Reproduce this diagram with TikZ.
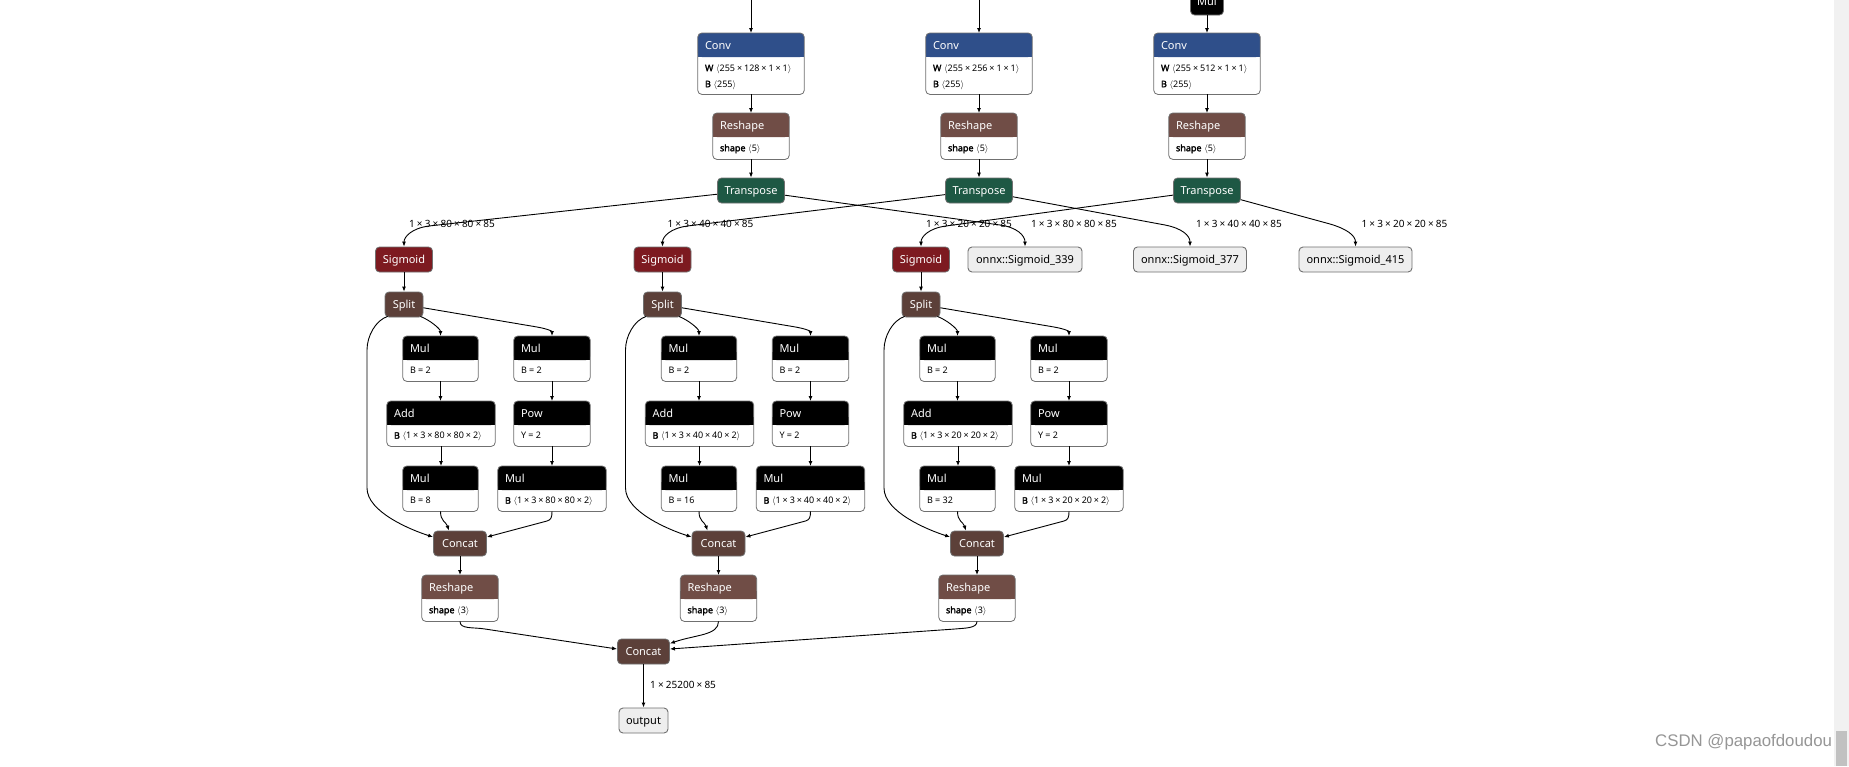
\documentclass[tikz,border=0pt]{standalone}
\usepackage{fontspec}
\setmainfont{Noto Sans}
\newfontfamily\wmfont{Liberation Sans}
\newfontfamily\bnt{Noto Sans}[FakeBold=2.2]
\usetikzlibrary{arrows.meta,calc}

\definecolor{convc}{RGB}{47,79,138}
\definecolor{shapec}{RGB}{112,77,70}
\definecolor{tensc}{RGB}{92,64,57}
\definecolor{transc}{RGB}{30,88,68}
\definecolor{sigc}{RGB}{125,26,32}
\definecolor{framec}{RGB}{112,112,112}
\definecolor{plainc}{RGB}{238,238,238}
\definecolor{wmc}{RGB}{150,150,150}
\definecolor{trackc}{RGB}{241,241,241}
\definecolor{thumbc}{RGB}{193,193,193}

\newcommand\tms{\hspace{0.214em}×\hspace{0.214em}}
\newcommand\lbr{\hspace{0.3em}$\langle$}
\newcommand\rbr{$\rangle$}
\newcommand\nm[1]{{\bnt #1}}

\tikzset{
  conn/.style={draw=black, line width=0.9pt, -{Latex[length=5pt,width=4pt]}},
  opfr/.style={draw=none, inner sep=0pt, rectangle},
  ttl/.style={text=white, font=\fontsize{11}{13}\selectfont, inner sep=0pt},
  bdy/.style={text=black, font=\fontsize{9}{11}\selectfont, inner sep=0pt},
  lbl/.style={text=black, font=\fontsize{10}{12}\selectfont, inner sep=0pt},
  tnode/.style={draw=framec, line width=0.8pt, rounded corners=4pt, text=white,
    font=\fontsize{11}{13}\selectfont, minimum height=25pt, inner sep=0pt,
    text height=7.8pt, text depth=0pt},
  pnode/.style={draw=framec, fill=plainc, line width=0.9pt, rounded corners=4pt, text=black,
    font=\fontsize{11}{13}\selectfont, minimum height=25pt, inner sep=0pt,
    text height=7.8pt, text depth=0pt},
  wm/.style={font=\wmfont\fontsize{16.8}{20}\selectfont, text=wmc, inner sep=0pt}
}

% #1 name, #2 cx, #3 top, #4 width, #5 body height, #6 header colour
\newcommand\opframe[6]{%
  \node[opfr, minimum width=#4, minimum height={24+#5}, anchor=north] (#1) at (#2,#3) {};
  \fill[white, rounded corners=4pt] (#1.north west) rectangle (#1.south east);
  \fill[#6, rounded corners=4pt] (#1.north west) rectangle ($(#1.north east)+(0,24)$);
  \fill[#6] ($(#1.north west)+(0,16)$) rectangle ($(#1.north east)+(0,24)$);
  \draw[framec, line width=0.8pt, rounded corners=4pt] (#1.north west) rectangle (#1.south east);
}
\newcommand\titl[2]{\node[ttl, anchor=base west] at ($(#1.north west)+(7,16)$) {#2};}
\newcommand\brow[3]{\node[bdy, anchor=base west] at ($(#1.north west)+(7,#2)$) {#3};}

\begin{document}
\begin{tikzpicture}[x=1pt,y=-1pt]
\useasboundingbox (0,0) rectangle (1849,766);
\clip (0,0) rectangle (1849,766);
\fill[white] (0,0) rectangle (1849,766);

% scrollbar and watermark
\fill[trackc] (1834,0) rectangle (1849,766);
\fill[thumbc] (1836,731) rectangle (1847,766);
\node[wm, anchor=base west] (wmark) at (1655,746.5) {CSDN @papaofdoudou};

% top inputs
\coordinate (in0) at (751,-2);
\coordinate (in1) at (979,-2);
\node[tnode, fill=black, minimum width=33, minimum height=27] (mtop) at (1207,1.5) {Mul};

\foreach \ci/\w in {0/128,1/256,2/512}{
  \pgfmathsetmacro\tx{751+228*\ci}
  \opframe{conv\ci}{\tx}{33}{106}{37}{convc}
  \titl{conv\ci}{Conv}
  \brow{conv\ci}{38.2}{\nm{W}\lbr 255\tms\w\tms1\tms1\rbr}
  \brow{conv\ci}{54.2}{\nm{B}\lbr 255\rbr}
  \opframe{rsa\ci}{\tx}{113}{76}{22}{shapec}
  \titl{rsa\ci}{Reshape}
  \brow{rsa\ci}{38.2}{\nm{shape}\lbr 5\rbr}
  \node[tnode, fill=transc, minimum width=67] (t\ci) at (\tx,190.5) {Transpose};
  \draw[conn] (conv\ci) -- (rsa\ci);
  \draw[conn] (rsa\ci) -- (t\ci);
}
\draw[conn] (in0) -- (conv0);
\draw[conn] (in1) -- (conv1);
\draw[conn] (mtop) -- (conv2);

% onnx outputs
\node[pnode, minimum width=114] (o0) at (1025,259.5) {onnx::Sigmoid\_339};
\node[pnode, minimum width=113] (o1) at (1190,259.5) {onnx::Sigmoid\_377};
\node[pnode, minimum width=113] (o2) at (1355.5,259.5) {onnx::Sigmoid\_415};
\node[lbl] (lo0) at (1074,224) {1\tms3\tms80\tms80\tms85};
\node[lbl] (lo1) at (1239,224) {1\tms3\tms40\tms40\tms85};
\node[lbl] (lo2) at (1404.5,224) {1\tms3\tms20\tms20\tms85};
\draw[conn] (t0) -- (1000,225) .. controls +(17,2.3) and +(0,-11) .. (o0.north);
\draw[conn] (t1) -- (1165,225) .. controls +(17,3.3) and +(0,-11) .. (o1.north);
\draw[conn] (t2) -- (1330,224) .. controls +(17,5) and +(0,-11) .. (o2.north);

% lower columns
\foreach \ci/\dm/\bv in {0/80/8,1/40/16,2/20/32}{
  \pgfmathsetmacro\cx{404+258.5*\ci}
  \node[lbl] (ls\ci) at (\cx+48,224) {1\tms3\tms\dm\tms\dm\tms85};
  \node[tnode, fill=sigc, minimum width=57] (sig\ci) at (\cx,259.5) {Sigmoid};
  \node[tnode, fill=tensc, minimum width=38] (sp\ci) at (\cx,304.5) {Split};
  \opframe{ma\ci}{\cx+36.5}{336}{75}{21}{black}
  \titl{ma\ci}{Mul} \brow{ma\ci}{37.7}{B = 2}
  \opframe{mb\ci}{\cx+148}{336}{76}{21}{black}
  \titl{mb\ci}{Mul} \brow{mb\ci}{37.7}{B = 2}
  \opframe{ad\ci}{\cx+37}{401}{108}{21}{black}
  \titl{ad\ci}{Add} \brow{ad\ci}{37.7}{\nm{B}\lbr 1\tms3\tms\dm\tms\dm\tms2\rbr}
  \opframe{pw\ci}{\cx+148}{401}{76}{21}{black}
  \titl{pw\ci}{Pow} \brow{pw\ci}{37.7}{Y = 2}
  \opframe{mc\ci}{\cx+36.5}{466}{75}{21}{black}
  \titl{mc\ci}{Mul} \brow{mc\ci}{37.7}{B = \bv}
  \opframe{md\ci}{\cx+148}{466}{108}{21}{black}
  \titl{md\ci}{Mul} \brow{md\ci}{37.7}{\nm{B}\lbr 1\tms3\tms\dm\tms\dm\tms2\rbr}
  \node[tnode, fill=tensc, minimum width=53] (cc\ci) at (\cx+56,543.5) {Concat};
  \opframe{rb\ci}{\cx+56}{575}{76}{22}{shapec}
  \titl{rb\ci}{Reshape} \brow{rb\ci}{38.2}{\nm{shape}\lbr 3\rbr}
  % edges
  \draw[conn] (t\ci) -- (\cx+25,226) .. controls +(-17,2.2) and +(0,-10) .. (sig\ci.north);
  \draw[conn] (sig\ci) -- (sp\ci);
  \draw[conn] ($(sp\ci.south east)+(-3,-1)$) .. controls +(10,4) and +(0,-7) .. (ma\ci.north);
  \draw[conn] (sp\ci) -- (\cx+133,327) .. controls +(10,1.8) and +(0,-5) .. (mb\ci.north);
  \draw[conn] ($(sp\ci.south west)+(3,-1)$) .. controls +(-12,4) and +(0,-14) .. (\cx-37,350)
      -- (\cx-37,488) .. controls +(0,24) and +(-22,-7) .. ($(cc\ci.west)+(0,-6.5)$);
  \draw[conn] (ma\ci.south) -- (ma\ci.south |- ad\ci.north);
  \draw[conn] (ad\ci.south) -- (ad\ci.south |- mc\ci.north);
  \draw[conn] (mb\ci) -- (pw\ci);
  \draw[conn] (pw\ci) -- (md\ci);
  \draw[conn] (mc\ci.south) .. controls +(0,10) and +(-3,-9) .. ($(cc\ci.north)+(-11,0)$);
  \draw[conn] (md\ci.south) .. controls +(0,6) and +(4,-1.1) .. (\cx+143,521) -- ($(cc\ci.east)+(0,-6.5)$);
  \draw[conn] (cc\ci) -- (rb\ci);
}

% final concat and output
\node[tnode, fill=tensc, minimum width=52] (fc) at (643.5,651.5) {Concat};
\node[pnode, minimum width=49] (out) at (643.5,720.5) {output};
\draw[conn] (rb0.south) .. controls +(0,8) and +(-12,-2) .. (485,629) -- ($(fc.west)+(0,-2.5)$);
\draw[conn] (rb1.south) .. controls +(0,14) and +(26,-9) .. ($(fc.east)+(0,-8)$);
\draw[conn] (rb2.south) .. controls +(0,7) and +(10,-1) .. (955,629) -- ($(fc.east)+(0,-2.5)$);
\draw[conn] (fc) -- (out);
\node[lbl, anchor=west] (lout) at (650,685) {1\tms25200\tms85};
\end{tikzpicture}
\end{document}
